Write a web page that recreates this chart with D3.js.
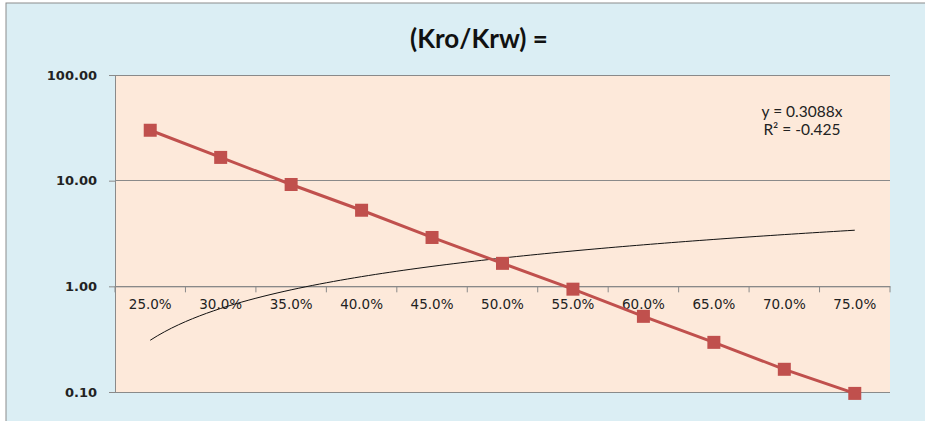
<!DOCTYPE html>
<html><head><meta charset="utf-8">
<script src="https://cdn.jsdelivr.net/npm/d3@7"></script>
<style>body{margin:0;background:#fff}svg{display:block}</style>
</head><body>
<script>
const categories = ["25.0%","30.0%","35.0%","40.0%","45.0%","50.0%","55.0%","60.0%","65.0%","70.0%","75.0%"];
const ratioValues = [30, 16.6, 9.2, 5.25, 2.9, 1.65, 0.94, 0.52, 0.295, 0.164, 0.097];
const yTicks = [0.1, 1, 10, 100];
const trendSlope = 0.3088;
const trendLabel = ["y = 0.3088x", "R\u00b2 = -0.425"];
const title = "(Kro/Krw) =";

(function(){
const W = 925, H = 421;
const svg = d3.select("body").append("svg").attr("width", W).attr("height", H);
svg.append("rect").attr("x",0).attr("y",0).attr("width",W).attr("height",H).attr("fill","#fff");
svg.append("rect").attr("x",6).attr("y",3).attr("width",W).attr("height",H)
  .attr("fill","#DBEEF4").attr("stroke","#8c8c8c").attr("stroke-width",1);

const pL = 115, pR = 890, pT = 75, pB = 392;
const x = d3.scaleBand().domain(categories).range([pL, pR]).padding(0);
const y = d3.scaleLog().domain([0.1, 100]).range([pB, pT]);

svg.append("rect").attr("x",pL).attr("y",pT).attr("width",pR-pL).attr("height",pB-pT).attr("fill","#FDE9DA");

svg.append("g").selectAll("line").data(yTicks).join("line")
  .attr("x1",pL).attr("x2",pR).attr("y1",d=>y(d)).attr("y2",d=>y(d))
  .attr("stroke","#8a8a8a").attr("stroke-width",1).attr("shape-rendering","crispEdges");

const yAxis = d3.axisLeft(y).tickValues(yTicks).tickFormat(d3.format(".2f")).tickSize(6).tickPadding(12);
const yg = svg.append("g").attr("transform",`translate(${pL},0)`).call(yAxis);
yg.select(".domain").attr("stroke","#8a8a8a");
yg.selectAll(".tick line").attr("stroke","#8a8a8a");
yg.selectAll("text").attr("font-family","DejaVu Sans, Verdana, sans-serif").attr("font-size",13)
  .attr("font-weight","bold").attr("fill","#222");

const xAxis = d3.axisBottom(x).tickSize(0).tickPadding(13);
const xg = svg.append("g").attr("transform",`translate(0,${y(1)})`).call(xAxis);
xg.select(".domain").attr("stroke","#8a8a8a");
xg.selectAll("text").attr("font-family","DejaVu Sans, Verdana, sans-serif").attr("font-size",13.5).attr("fill","#222");
const bounds = categories.map(c=>x(c)).concat([pR]);
xg.selectAll(".bt").data(bounds).join("line").attr("class","bt")
  .attr("x1",d=>d).attr("x2",d=>d).attr("y1",0).attr("y2",6).attr("stroke","#8a8a8a");

const trendPts = d3.range(1, categories.length + 0.001, 0.1).map(i => [i, trendSlope * i]);
const xi = d3.scaleLinear().domain([1, categories.length]).range([x(categories[0]) + x.bandwidth()/2, x(categories[categories.length-1]) + x.bandwidth()/2]);
svg.append("path").datum(trendPts)
  .attr("d", d3.line().x(d=>xi(d[0])).y(d=>y(d[1])).curve(d3.curveMonotoneX))
  .attr("fill","none").attr("stroke","#111").attr("stroke-width",1);

const cx = (d,i) => x(categories[i]) + x.bandwidth()/2;
svg.append("path").datum(ratioValues)
  .attr("d", d3.line().x(cx).y(d=>y(d)))
  .attr("fill","none").attr("stroke","#C0504D").attr("stroke-width",3);
svg.append("g").selectAll("rect").data(ratioValues).join("rect")
  .attr("x",(d,i)=>cx(d,i)-6.5).attr("y",d=>y(d)-6.5).attr("width",13).attr("height",13)
  .attr("fill","#C0504D");

svg.append("g").selectAll("text").data(trendLabel).join("text")
  .attr("x",802).attr("y",(d,i)=>117 + i*18).attr("text-anchor","middle")
  .attr("font-family","Lato, 'Open Sans', sans-serif").attr("font-size",15.5).attr("fill","#222")
  .text(d=>d);

svg.append("text").attr("x",479).attr("y",48).attr("text-anchor","middle")
  .attr("font-family","Lato, 'Open Sans', sans-serif").attr("font-weight","bold").attr("font-size",26)
  .attr("fill","#111").text(title);
})();
</script>
</body></html>
